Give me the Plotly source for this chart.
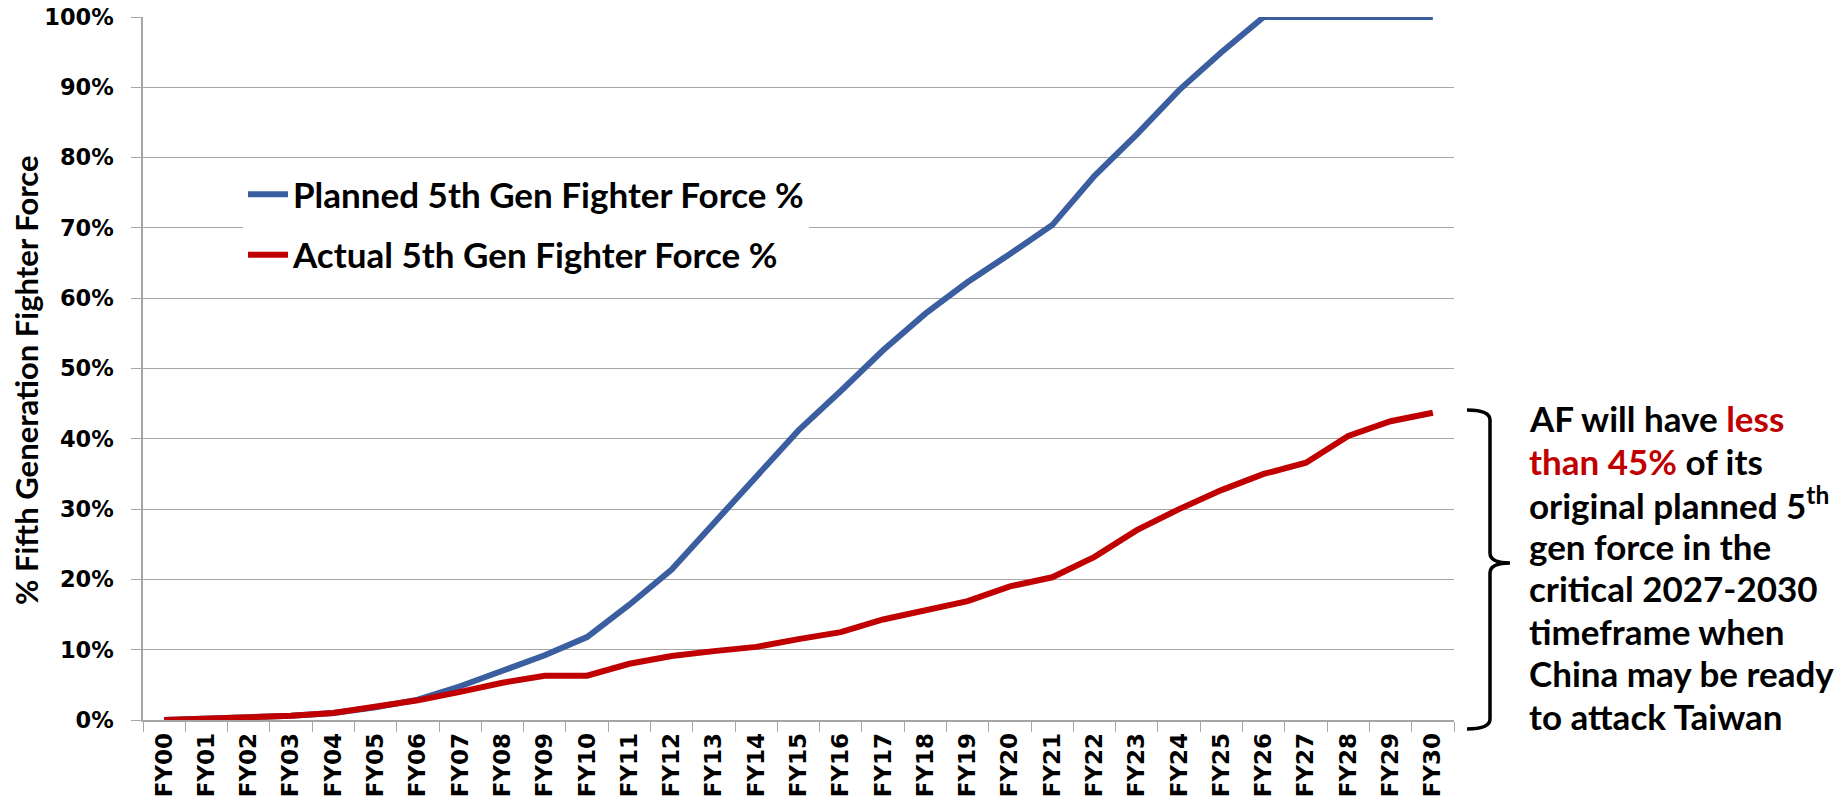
import plotly.graph_objects as go

# fiscal years on the x axis
years = ["FY%02d" % i for i in range(0, 31)]

# % of fighter force that is 5th generation
planned_pct = [0.0, 0.2, 0.3, 0.6, 1.0, 1.8, 2.9, 4.8, 7.0, 9.2, 11.8,
               16.4, 21.4, 28.0, 34.6, 41.2, 46.8, 52.6, 57.8, 62.3, 66.3,
               70.4, 77.4, 83.3, 89.6, 95.0, 100.0, 100.0, 100.0, 100.0, 100.0]
actual_pct = [0.0, 0.2, 0.3, 0.6, 1.0, 1.8, 2.8, 4.0, 5.3, 6.3, 6.3,
              8.0, 9.1, 9.8, 10.4, 11.5, 12.5, 14.3, 15.5, 16.9, 19.0,
              20.3, 23.2, 27.0, 30.0, 32.7, 35.0, 36.6, 40.4, 42.5, 43.7]

y_ticks = list(range(0, 101, 10))
y_ticktext = ["%d%%" % v for v in y_ticks]

y_title = "% Fifth Generation Fighter Force"

note_lines = [
    "AF will have <span style='color:#C00000'>less</span>",
    "<span style='color:#C00000'>than 45%</span> of its",
    "original planned 5<sup>th</sup>",
    "gen force in the",
    "critical 2027-2030",
    "timeframe when",
    "China may be ready",
    "to attack Taiwan",
]

BLUE = "#3A5E9F"
RED = "#C00000"
GRID = "#A6A6A6"

# page size and plot area on the page in pixels (left, top, right, bottom)
W, H = 1847, 797
PL, PT, PR, PB = 143, 17, 1454, 720
OFF = 8  # default body margin of the html page


def px_x(x):
    return (x - PL) / (PR - PL)


def px_y(y):
    return (PB - y) / (PB - PT)


fig = go.Figure()
fig.add_trace(go.Scatter(
    x=years, y=planned_pct, mode="lines", name="Planned 5th Gen Fighter Force %",
    line=dict(color=BLUE, width=6), legendgroup="a",
))
fig.add_trace(go.Scatter(
    x=years, y=actual_pct, mode="lines", name="Actual 5th Gen Fighter Force %",
    line=dict(color=RED, width=6), legendgroup="b",
))

fig.update_layout(
    width=W, height=H,
    margin=dict(l=PL - OFF, t=PT - OFF, r=W - PR + OFF, b=H - PB + OFF,
                autoexpand=False),
    paper_bgcolor="white", plot_bgcolor="white",
    font=dict(family="Lato", color="black"),
    showlegend=True,
    legend=dict(
        x=px_x(243), y=px_y(165), xanchor="left", yanchor="top",
        bgcolor="white", borderwidth=0,
        font=dict(family="Lato", size=35, color="black", weight="bold"),
        tracegroupgap=12, itemwidth=40,
    ),
)

fig.update_xaxes(
    type="category", range=[-0.5, 30.5],
    showgrid=False, showline=True, linecolor=GRID, linewidth=1.5,
    ticks="outside", tickson="boundaries", ticklen=10, tickcolor=GRID,
    tickangle=-90, ticklabelstandoff=2,
    tickfont=dict(family="DejaVu Sans", size=23, color="black", weight="bold"),
)
fig.update_yaxes(
    range=[0, 100], tickvals=y_ticks, ticktext=y_ticktext,
    ticklabeloverflow="allow",
    showgrid=True, gridcolor=GRID, gridwidth=1,
    showline=True, linecolor=GRID, linewidth=1.5,
    ticks="outside", ticklen=10, tickcolor=GRID, ticklabelstandoff=13,
    zeroline=False,
    tickfont=dict(family="DejaVu Sans", size=22.5, color="black", weight="bold"),
)

# y axis title, placed like the original
fig.add_annotation(
    text=y_title, textangle=-90, xref="paper", yref="paper",
    x=px_x(26), y=px_y(380), xanchor="center", yanchor="middle",
    showarrow=False,
    font=dict(family="Lato", size=31, color="black", weight="bold"),
)

# curly brace next to the end of the actual-force line
x0, x1, x2 = px_x(1467), px_x(1490), px_x(1510)
top, mid, bot = px_y(410), px_y(563), px_y(729)
r = px_y(400) - px_y(410)
brace = (
    f"M {x0},{top} Q {x1},{top} {x1},{top - r} "
    f"L {x1},{mid + r} Q {x1},{mid} {x2},{mid} "
    f"Q {x1},{mid} {x1},{mid - r} "
    f"L {x1},{bot + r} Q {x1},{bot} {x0},{bot}"
)
fig.add_shape(type="path", path=brace, xref="paper", yref="paper",
              line=dict(color="black", width=3.5))

for i, line in enumerate(note_lines):
    fig.add_annotation(
        text=line, xref="paper", yref="paper",
        x=px_x(1527), y=px_y(418 + 42.5 * i), xanchor="left", yanchor="middle",
        align="left", showarrow=False,
        font=dict(family="Lato", size=35, color="black", weight="bold"),
    )

fig.write_html("out.html")
